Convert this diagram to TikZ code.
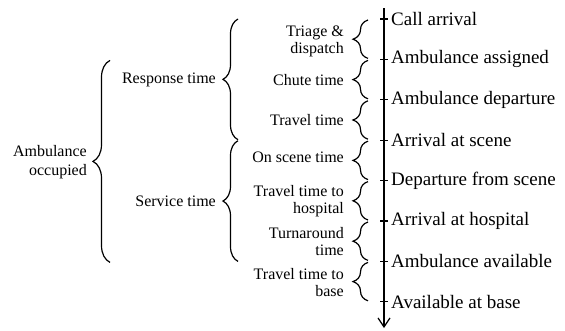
\documentclass[tikz,border=0pt]{standalone}
\usepackage{fontspec}
\setmainfont{Liberation Serif}
\usetikzlibrary{decorations.pathreplacing,arrows.meta,calc}
\begin{document}
\begin{tikzpicture}[x=1pt,y=-1pt,
  lw/.style={line width=1.2pt},
  br/.style={lw, decorate, decoration={brace, amplitude=#1}},
  br/.default=15pt,
  ev/.style={anchor=west, inner sep=0pt, font=\fontsize{19}{22}\selectfont},
  sm/.style={anchor=east, inner sep=0pt, align=right, font=\fontsize{16}{17}\selectfont},
  md/.style={anchor=east, inner sep=0pt, align=right, font=\fontsize{16}{19}\selectfont}]
\useasboundingbox (0,0) rectangle (565,330);
\coordinate (top) at (384,8);
\coordinate (bot) at (384,328);
\draw[lw, -{Straight Barb[length=9pt,width=12pt]}] (top) -- (bot);
\node[ev] (e1) at (391,19) {Call arrival};
\node[ev] (e2) at (391,59.4) {Ambulance assigned};
\node[ev] (e3) at (391,99.8) {Ambulance departure};
\node[ev] (e4) at (391,140.2) {Arrival at scene};
\node[ev] (e5) at (391,180.6) {Departure from scene};
\node[ev] (e6) at (391,221) {Arrival at hospital};
\node[ev] (e7) at (391,261.4) {Ambulance available};
\node[ev] (e8) at (391,301.8) {Available at base};
\foreach \i in {1,...,8}{
  \coordinate (t\i) at (384,{19+40.4*(\i-1)});
  \draw[lw] ([xshift=-4pt]t\i) -- ([xshift=4pt]t\i);
}
\foreach \i in {1,...,7}{
  \pgfmathtruncatemacro{\j}{\i+1}
  \draw[br] ([xshift=-16pt,yshift=1pt]t\j) -- ([xshift=-16pt,yshift=-1pt]t\i);
}
\node[sm] (s1) at (344,41) {Triage \&\\dispatch};
\node[sm] (s2) at (344,79.6) {Chute time};
\node[sm] (s3) at (344,120) {Travel time};
\node[sm] (s4) at (344,157) {On scene time};
\node[sm] (s5) at (344,201.5) {Travel time to\\hospital};
\node[sm] (s6) at (344,241.5) {Turnaround\\time};
\node[sm] (s7) at (344,282.5) {Travel time to\\base};
\draw[br] ([xshift=-146pt,yshift=0.5pt]t4) -- ([xshift=-146pt]t1);
\node[md] (resp) at (216,80) {Response time};
\draw[br] ([xshift=-146pt]t7) -- ([xshift=-146pt,yshift=-0.5pt]t4);
\node[md] (serv) at (216,201.5) {Service time};
\draw[br=17pt] ([xshift=-274pt,yshift=-1pt]t7) -- ([xshift=-274pt,yshift=-1pt]t2);
\node[md] (occ) at (87,162) {Ambulance\\occupied};
\end{tikzpicture}
\end{document}
